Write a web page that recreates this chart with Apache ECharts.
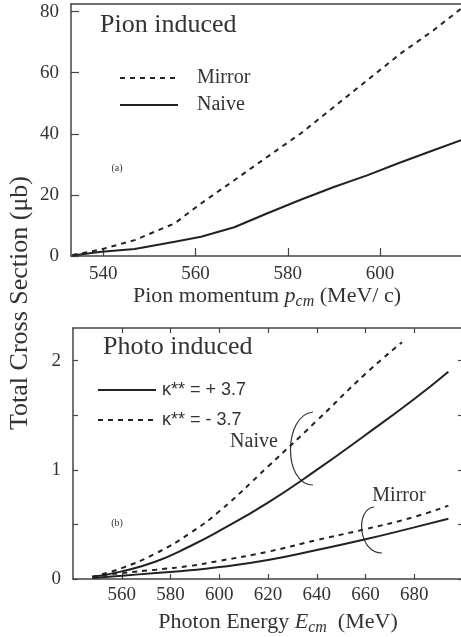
<!DOCTYPE html>
<html>
<head>
<meta charset="utf-8">
<script src="https://cdn.jsdelivr.net/npm/echarts@6/dist/echarts.min.js"></script>
<style>
    html, body { margin: 0; padding: 0; background: #fff; }
    #chart { width: 461px; height: 637px; }
</style>
</head>
<body>
<div id="chart"></div>
<script>
// (a) pion induced
var pionMomentum = [533.3, 539.6, 546.8, 555.5, 561.2, 568.4, 575.6, 582.8, 590, 597.2, 604.4, 611.6, 617.6];
var pionMirror = [0.3, 2.2, 5.2, 10.7, 17.2, 24.8, 32.5, 40.1, 48.8, 57.5, 66.2, 73.9, 81];
var pionNaive = [0.2, 1.4, 2.3, 4.7, 6.3, 9.4, 14.0, 18.4, 22.6, 26.4, 30.6, 34.6, 37.9];
var pionXTicks = [540, 560, 580, 600];
var pionYTicks = [0, 20, 40, 60, 80];

// (b) photo induced
var photonEnergy = [548, 560, 574, 588, 600, 620, 640, 660, 680, 694];
var naivePlus = [0.02, 0.07, 0.16, 0.30, 0.44, 0.70, 1.00, 1.32, 1.65, 1.90];
var mirrorPlus = [0.01, 0.03, 0.055, 0.08, 0.109, 0.175, 0.266, 0.364, 0.473, 0.552];
var mirrorMinus = [0.02, 0.055, 0.085, 0.12, 0.166, 0.25, 0.357, 0.457, 0.569, 0.672];
var naiveMinusEnergy = [548, 560, 574, 588, 600, 620, 640, 660, 675];
var naiveMinus = [0.02, 0.10, 0.235, 0.42, 0.62, 1.03, 1.45, 1.88, 2.17];
var photonXTicks = [560, 580, 600, 620, 640, 660, 680];
var photonYTicks = [0, 0.5, 1, 1.5, 2];
var photonYLabels = [0, 1, 2];

var serif = '"Liberation Serif", "DejaVu Serif", serif';
var sans = '"Liberation Sans", "DejaVu Sans", sans-serif';
var ink = '#222';
var axisColor = '#444';

function pairs(xs, ys) {
    return xs.map(function (x, i) {
        return [x, ys[i]];
    });
}

function curve(name, xi, yi, data, dashed, smooth) {
    return {
        type: 'line',
        name: name,
        xAxisIndex: xi,
        yAxisIndex: yi,
        data: data,
        symbol: 'none',
        smooth: smooth,
        lineStyle: { color: ink, width: 2, type: dashed ? [5, 5] : 'solid' },
        itemStyle: { color: ink }
    };
}

function valueAxis(opt) {
    var base = {
        type: 'value',
        axisLine: { show: true, onZero: false, lineStyle: { color: axisColor, width: 1.5 } },
        axisTick: { show: false },
        axisLabel: { show: false },
        splitLine: { show: false }
    };
    return Object.assign(base, opt);
}

function ticks(values, len) {
    return { show: true, inside: true, length: len, customValues: values, lineStyle: { color: axisColor, width: 1.2 } };
}

function labels(values, margin) {
    return { show: true, customValues: values, margin: margin, fontFamily: serif, fontSize: 19, color: '#333' };
}

function axisName(padLeft) {
    return {
        fontFamily: serif, fontSize: 22, color: '#333', padding: [0, 0, 0, padLeft],
        rich: {
            i: { fontFamily: serif, fontSize: 22, fontStyle: 'italic', color: '#333' },
            s: { fontFamily: serif, fontSize: 16, fontStyle: 'italic', color: '#333', padding: [12, 0, 0, 0] }
        }
    };
}

var chart = echarts.init(document.getElementById('chart'));

chart.setOption({
    animation: false,
    backgroundColor: '#fff',
    grid: [
        { left: 71, top: 4, right: -2, height: 252, outerBoundsMode: 'none' },
        { left: 73, top: 328, right: -2, height: 251, outerBoundsMode: 'none' }
    ],
    xAxis: [
        valueAxis({
            gridIndex: 0, position: 'bottom', min: 533, max: 618,
            axisTick: ticks(pionXTicks, 8),
            axisLabel: labels(pionXTicks, 9),
            name: 'Pion momentum {i|p}{s|cm} (MeV/ c)',
            nameLocation: 'middle',
            nameGap: 26,
            nameTextStyle: axisName(0)
        }),
        valueAxis({ gridIndex: 0, position: 'top', min: 533, max: 618 }),
        valueAxis({
            gridIndex: 1, position: 'bottom', min: 540, max: 700,
            axisTick: ticks(photonXTicks, 5),
            axisLabel: labels(photonXTicks, 7),
            name: 'Photon Energy {i|E}{s|cm}  (MeV)',
            nameLocation: 'middle',
            nameGap: 29,
            nameTextStyle: axisName(20)
        }),
        valueAxis({ gridIndex: 1, position: 'top', min: 540, max: 700, axisTick: ticks(photonXTicks, 5) })
    ],
    yAxis: [
        valueAxis({
            gridIndex: 0, position: 'left', min: 0, max: 82.5,
            axisTick: ticks(pionYTicks, 8),
            axisLabel: labels(pionYTicks, 12)
        }),
        valueAxis({
            gridIndex: 1, position: 'left', min: 0, max: 2.3,
            axisTick: ticks(photonYTicks, 5),
            axisLabel: labels(photonYLabels, 12)
        }),
        valueAxis({
            gridIndex: 1, position: 'right', min: 0, max: 2.3,
            axisTick: ticks(photonYTicks, 5)
        })
    ],
    legend: [
        {
            orient: 'vertical', left: 114, top: 63,
            itemWidth: 58, itemHeight: 14, itemGap: 7,
            selectedMode: false,
            itemStyle: { opacity: 0 },
            data: ['Mirror', 'Naive'],
            textStyle: { fontFamily: serif, fontSize: 20, color: '#333', padding: [0, 0, 0, 14] }
        },
        {
            orient: 'vertical', left: 92, top: 376,
            itemWidth: 58, itemHeight: 14, itemGap: 12,
            selectedMode: false,
            itemStyle: { opacity: 0 },
            data: ['κ** = + 3.7', 'κ** = - 3.7'],
            textStyle: { fontFamily: sans, fontSize: 18, color: '#333', padding: [0, 0, 0, 1] }
        }
    ],
    series: [
        curve('Mirror', 0, 0, pairs(pionMomentum, pionMirror), true, false),
        curve('Naive', 0, 0, pairs(pionMomentum, pionNaive), false, false),
        curve('κ** = + 3.7', 2, 1, pairs(photonEnergy, naivePlus), false, true),
        curve('κ** = - 3.7', 2, 1, pairs(naiveMinusEnergy, naiveMinus), true, true),
        curve('κ** = + 3.7', 2, 1, pairs(photonEnergy, mirrorPlus), false, true),
        curve('κ** = - 3.7', 2, 1, pairs(photonEnergy, mirrorMinus), true, true)
    ],
    graphic: [
        {
            type: 'text', x: 20, y: 303, rotation: Math.PI / 2,
            style: { text: 'Total Cross Section (μb)', font: '26px ' + serif, fill: '#333', align: 'center', verticalAlign: 'middle' }
        },
        {
            type: 'text', x: 100, y: 25,
            style: { text: 'Pion induced', font: '26px ' + serif, fill: '#333', align: 'left', verticalAlign: 'middle' }
        },
        {
            type: 'text', x: 103, y: 347,
            style: { text: 'Photo induced', font: '26px ' + serif, fill: '#333', align: 'left', verticalAlign: 'middle' }
        },
        {
            type: 'text', x: 117, y: 168,
            style: { text: '(a)', font: '10px ' + serif, fill: '#333', align: 'center', verticalAlign: 'middle' }
        },
        {
            type: 'text', x: 117, y: 523,
            style: { text: '(b)', font: '10px ' + serif, fill: '#333', align: 'center', verticalAlign: 'middle' }
        },
        {
            type: 'text', x: 254, y: 442,
            style: { text: 'Naive', font: '20px ' + serif, fill: '#333', align: 'center', verticalAlign: 'middle' }
        },
        {
            type: 'text', x: 399, y: 496,
            style: { text: 'Mirror', font: '20px ' + serif, fill: '#333', align: 'center', verticalAlign: 'middle' }
        },
        {
            type: 'bezierCurve',
            shape: { x1: 313, y1: 412, cpx1: 283, cpy1: 415, cpx2: 283, cpy2: 485, x2: 313, y2: 485 },
            style: { stroke: '#333', lineWidth: 1.2, fill: null }
        },
        {
            type: 'bezierCurve',
            shape: { x1: 374, y1: 507, cpx1: 355, cpy1: 509, cpx2: 358, cpy2: 553, x2: 382, y2: 553 },
            style: { stroke: '#333', lineWidth: 1.2, fill: null }
        }
    ]
});
</script>
</body>
</html>
